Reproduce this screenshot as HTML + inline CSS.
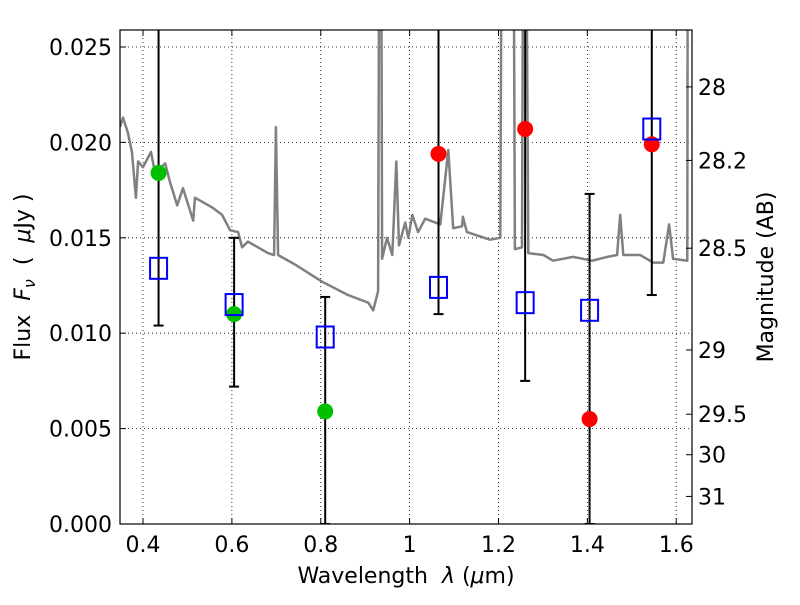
<!DOCTYPE html>
<html><head><meta charset="utf-8"><style>
body{margin:0;background:#fff}
svg text{font-family:"DejaVu Sans","Liberation Sans",sans-serif;font-size:22px;fill:#000}
</style></head><body>
<svg id="chart" width="800" height="600" xmlns="http://www.w3.org/2000/svg">
<defs><clipPath id="clip"><rect x="120" y="30" width="572" height="494"/></clipPath></defs>
<rect x="0" y="0" width="800" height="600" fill="#fff"/>
<g id="grid"></g>
<g id="spec" clip-path="url(#clip)"></g>
<g id="marks" clip-path="url(#clip)"></g>
<g id="axes"></g>
<text x="406" y="583" text-anchor="middle" xml:space="preserve">Wavelength  <tspan font-style="italic">λ</tspan> (<tspan font-style="italic">μ</tspan>m)</text>
<text transform="translate(30,277) rotate(-90)" text-anchor="middle" xml:space="preserve">Flux  <tspan font-style="italic">F</tspan><tspan font-style="italic" font-size="16" dy="5">ν</tspan><tspan dy="-5">  (  </tspan><tspan font-style="italic">μ</tspan>Jy )</text>
<text transform="translate(773,277) rotate(-90)" text-anchor="middle">Magnitude (AB)</text>
</svg>
<script>
const xTicks=[0.4,0.6,0.8,1.0,1.2,1.4,1.6];
const xTickLabels=["0.4","0.6","0.8","1","1.2","1.4","1.6"];
const yTicks=[0,0.005,0.01,0.015,0.02,0.025];
const yTickLabels=["0.000","0.005","0.010","0.015","0.020","0.025"];
const magTicks=[28,28.2,28.5,29,29.5,30,31];
const magTickLabels=["28","28.2","28.5","29","29.5","30","31"];
const specWave=[0.348,0.355,0.366,0.375,0.384,0.389,0.400,0.418,0.427,0.450,0.461,0.477,0.490,0.513,0.517,0.555,0.578,0.596,0.614,0.623,0.636,0.681,0.695,0.699,0.704,0.742,0.803,0.861,0.907,0.918,0.929,0.934,0.938,0.949,0.961,0.970,0.976,0.990,0.997,1.006,1.019,1.035,1.069,1.087,1.098,1.118,1.120,1.129,1.181,1.204,1.210,1.231,1.237,1.253,1.258,1.267,1.301,1.323,1.368,1.411,1.445,1.467,1.474,1.481,1.519,1.548,1.571,1.584,1.593,1.625,1.627];
const specFlux=[0.0208,0.0213,0.0205,0.0195,0.0171,0.0190,0.0187,0.0195,0.0184,0.0189,0.0179,0.0167,0.0176,0.0159,0.0171,0.0166,0.0162,0.0154,0.0153,0.0145,0.0148,0.0142,0.0141,0.0208,0.0141,0.0136,0.0127,0.0120,0.0116,0.0112,0.0122,0.05,0.0139,0.0150,0.0141,0.0190,0.0146,0.0158,0.0150,0.0162,0.0153,0.0160,0.0157,0.0196,0.0155,0.0156,0.0161,0.0153,0.0149,0.0150,0.05,0.05,0.0144,0.0145,0.05,0.0142,0.0141,0.0138,0.0140,0.0138,0.0140,0.0141,0.0162,0.0141,0.0141,0.0137,0.0137,0.0157,0.0139,0.0138,0.05];
const bandWave=[0.435,0.605,0.81,1.065,1.26,1.405,1.545];
const modelFlux=[0.0134,0.0115,0.0098,0.0124,0.0116,0.0112,0.0207];
const errLow=[0.0104,0.0072,0.0,0.0110,0.0075,0.0,0.0120];
const errHigh=[0.05,0.0150,0.0119,0.05,0.05,0.0173,0.05];
const greenWave=[0.435,0.605,0.81];
const greenFlux=[0.0184,0.0110,0.0059];
const redWave=[1.065,1.26,1.405,1.545];
const redFlux=[0.0194,0.0207,0.0055,0.0199];
const NS="http://www.w3.org/2000/svg";
const X0=120,X1=692,Y0=30,Y1=524;
const xmin=0.3482,xmax=1.6355,ymin=0,ymax=0.02589;
const sx=v=>X0+(v-xmin)/(xmax-xmin)*(X1-X0);
const sy=v=>Y1-(v-ymin)/(ymax-ymin)*(Y1-Y0);
const magToFlux=m=>Math.pow(10,(23.9-m)/2.5);
function mk(tag,attrs,parent){const e=document.createElementNS(NS,tag);for(const k in attrs)e.setAttribute(k,attrs[k]);parent.appendChild(e);return e;}
const grid=document.getElementById('grid'),axes=document.getElementById('axes'),spec=document.getElementById('spec'),marks=document.getElementById('marks');
xTicks.forEach((t,i)=>{const x=sx(t);
 let g=mk('line',{x1:x,x2:x,y1:Y0,y2:Y1,stroke:'#000','stroke-width':0.8,'stroke-dasharray':'1,3'},grid);
 
 
 mk('line',{x1:x,x2:x,y1:Y1,y2:Y1-6,stroke:'#000'},axes);
 mk('line',{x1:x,x2:x,y1:Y0,y2:Y0+6,stroke:'#000'},axes);
 let tx=mk('text',{x:x,y:Y1+28,'text-anchor':'middle'},axes);tx.textContent=xTickLabels[i];
 
 });
yTicks.forEach((t,i)=>{const y=sy(t);
 let g=mk('line',{x1:X0,x2:X1,y1:y,y2:y,stroke:'#000','stroke-width':0.8,'stroke-dasharray':'1,3'},grid);
 
 
 mk('line',{x1:X0,x2:X0+6,y1:y,y2:y,stroke:'#000'},axes);
 let tx=mk('text',{x:X0-8,y:y+8,'text-anchor':'end'},axes);tx.textContent=yTickLabels[i];
 
 });
magTicks.forEach((m,i)=>{const y=sy(magToFlux(m));
 mk('line',{x1:X1,x2:X1-6,y1:y,y2:y,stroke:'#000'},axes);
 let tx=mk('text',{x:X1+6,y:y+8,'text-anchor':'start'},axes);tx.textContent=magTickLabels[i];
 
 });
mk('rect',{x:X0,y:Y0,width:X1-X0,height:Y1-Y0,fill:'none',stroke:'#000','stroke-width':1.2},axes);
let d=specWave.map((w,i)=>(i?'L':'M')+sx(w).toFixed(1)+','+sy(specFlux[i]).toFixed(1)).join(' ');
let p=mk('path',{d:d,fill:'none',stroke:'#808080','stroke-width':2.5,'stroke-linejoin':'round'},spec);


bandWave.forEach((w,i)=>{const x=sx(w);
 let e=mk('line',{x1:x,x2:x,y1:sy(errLow[i]),y2:sy(errHigh[i]),stroke:'#000','stroke-width':2},marks);
 
 
 mk('line',{x1:x-5,x2:x+5,y1:sy(errLow[i]),y2:sy(errLow[i]),stroke:'#000','stroke-width':2},marks);
 mk('line',{x1:x-5,x2:x+5,y1:sy(errHigh[i]),y2:sy(errHigh[i]),stroke:'#000','stroke-width':2},marks);});
greenWave.forEach((w,i)=>{let c=mk('circle',{cx:sx(w),cy:sy(greenFlux[i]),r:8,fill:'#00c000'},marks);
 
 });
redWave.forEach((w,i)=>{let c=mk('circle',{cx:sx(w),cy:sy(redFlux[i]),r:8,fill:'#ff0000'},marks);
 
 });
bandWave.forEach((w,i)=>{let r=mk('rect',{x:sx(w)-8.5,y:sy(modelFlux[i])-10.5,width:17,height:21,fill:'none',stroke:'#0000ff','stroke-width':2},marks);
 
 });
</script>
</body></html>
